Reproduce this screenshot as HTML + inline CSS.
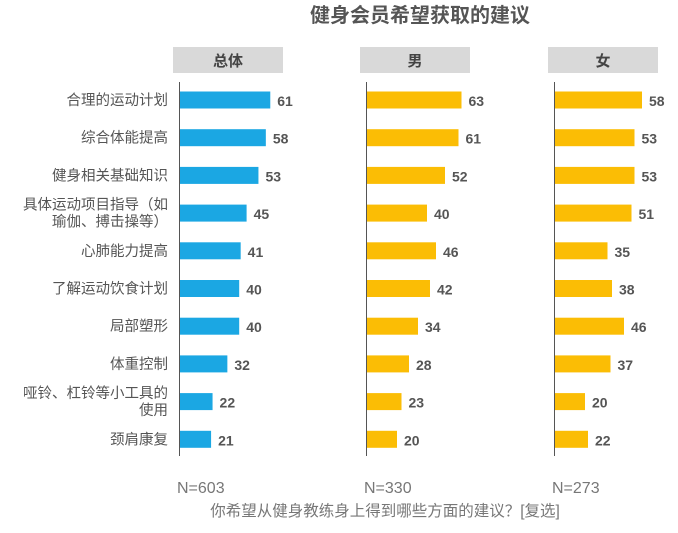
<!DOCTYPE html>
<html><head><meta charset="utf-8">
<style>
body{margin:0;background:#fff;}
svg text{font-family:"Liberation Sans","Noto Sans CJK SC",sans-serif;}
</style></head>
<body>
<svg id="c" width="678" height="528" xmlns="http://www.w3.org/2000/svg">
<text x="420" y="22" text-anchor="middle" font-size="20" font-weight="bold" fill="#555">健身会员希望获取的建议</text>
<text x="385" y="516" text-anchor="middle" font-size="15.5" fill="#777">你希望从健身教练身上得到哪些方面的建议？[复选]</text>
</svg>
<script>
const categories=["合理的运动计划","综合体能提高","健身相关基础知识","具体运动项目指导（如|瑜伽、搏击操等）","心肺能力提高","了解运动饮食计划","局部塑形","体重控制","哑铃、杠铃等小工具的|使用","颈肩康复"];
const totalValues=[61,58,53,45,41,40,40,32,22,21];
const maleValues=[63,61,52,40,46,42,34,28,23,20];
const femaleValues=[58,53,53,51,35,38,46,37,20,22];
const panelTitles=["总体","男","女"];
const sampleLabels=["N=603","N=330","N=273"];
const svg=document.getElementById('c');
const NS="http://www.w3.org/2000/svg";
function mk(t,a,txt){const e=document.createElementNS(NS,t);for(const k in a)e.setAttribute(k,a[k]);if(txt!=null)e.textContent=txt;svg.appendChild(e);return e;}
const panels=[{x0:180,vals:totalValues,color:"#1ba7e3",key:"total",s:1.48},{x0:367,vals:maleValues,color:"#fbbd05",key:"male",s:1.5},{x0:555,vals:femaleValues,color:"#fbbd05",key:"female",s:1.5}];
function xs(p,v){return p.x0+v*p.s;}
function yc(i){return 100+i*37.7;}
categories.forEach((c,i)=>{
  const parts=c.split('|');
  parts.forEach((s,j)=>{
    const t=mk('text',{x:168,y:yc(i)+5+(j-(parts.length-1)/2)*17,'text-anchor':'end','font-size':14.5,fill:'#555'},s);
    
    
  });
});
panels.forEach((p,pi)=>{
  const h=mk('rect',{x:p.x0-7,y:47,width:110,height:26,fill:'#d9d9d9'});
  
  
  const ht=mk('text',{x:p.x0+48,y:66,'text-anchor':'middle','font-size':15,'font-weight':'bold',fill:'#444'},panelTitles[pi]);
  
  
  const ax=mk('line',{x1:p.x0-0.5,x2:p.x0-0.5,y1:82,y2:456,stroke:'#555','stroke-width':1});
  
  
  p.vals.forEach((v,i)=>{
    const r=mk('rect',{x:p.x0,y:yc(i)-8.5,width:xs(p,v)-p.x0,height:17,fill:p.color});
    
    
    const t=mk('text',{x:xs(p,v)+7,y:yc(i)+6,'font-size':14,'font-weight':'bold',fill:'#555'},v);
    
    
  });
  const n=mk('text',{x:p.x0-3,y:493,'font-size':16,fill:'#777'},sampleLabels[pi]);
  
  
});
</script>
</body></html>
